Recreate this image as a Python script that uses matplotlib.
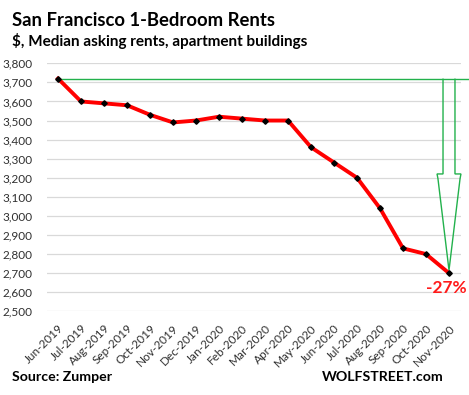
import matplotlib
matplotlib.use("Agg")
import matplotlib.pyplot as plt
from matplotlib.patches import Polygon
from matplotlib.lines import Line2D

plt.rcParams['font.family'] = ['Lato', 'DejaVu Sans']

months = ["Jun-2019", "Jul-2019", "Aug-2019", "Sep-2019", "Oct-2019", "Nov-2019",
          "Dec-2019", "Jan-2020", "Feb-2020", "Mar-2020", "Apr-2020", "May-2020",
          "Jun-2020", "Jul-2020", "Aug-2020", "Sep-2020", "Oct-2020", "Nov-2020"]
rents = [3720, 3600, 3590, 3580, 3530, 3490, 3500, 3520, 3510, 3500, 3500,
         3360, 3280, 3200, 3040, 2830, 2800, 2700]
yticks = [2500, 2600, 2700, 2800, 2900, 3000, 3100, 3200, 3300, 3400, 3500, 3600, 3700, 3800]

W, H = 469, 395
fig = plt.figure(figsize=(W / 100, H / 100), dpi=100)
ax = fig.add_axes([46.5 / W, 1 - 311.3 / H, (460.5 - 46.5) / W, (311.3 - 63.3) / H])

x = list(range(len(months)))
ax.plot(x, rents, color="#ff0000", lw=2.8, zorder=4, solid_joinstyle="round")
ax.plot(x, rents, ls="none", marker="D", ms=2.8, color="black", zorder=5)

ax.set_xlim(-0.5, len(months) - 0.5)
ax.set_ylim(2500, 3800)
ax.set_yticks(yticks)
ax.set_yticklabels([f"{v:,}" for v in yticks])
ax.set_xticks(x)
ax.set_xticklabels(months, rotation=45, ha="right", rotation_mode="anchor")
ax.tick_params(axis="both", length=0, labelsize=8.5, colors="#303030")
ax.tick_params(axis="x", pad=8)
ax.tick_params(axis="y", pad=10)
ax.grid(axis="y", color="#d9d9d9", lw=0.9)
ax.set_axisbelow(True)
for s in ax.spines.values():
    s.set_visible(False)

green = "#22b14c"
first, last = rents[0], rents[-1]
n = len(months) - 1
# horizontal reference line from the first value to the figure edge
ax.add_line(Line2D([0, 17.9], [first, first], color=green, lw=1.0, clip_on=False, zorder=3))
# hollow down arrow
sw, hw = 0.26, 0.52
pts = [(n - sw, first), (n - sw, 3220), (n - hw, 3220), (n - 0.48, 3195),
       (n, last + 15), (n + 0.48, 3195), (n + hw, 3220), (n + sw, 3220), (n + sw, first)]
ax.add_patch(Polygon(pts, closed=False, fill=False, edgecolor=green, lw=1.0,
                     clip_on=False, zorder=3))

pct = round((last / first - 1) * 100)
ax.text(n - 0.1, last - 35, f"{pct}%", color="#ff1a1a", fontsize=12.5,
        fontweight="bold", ha="center", va="top")

fig.text(12 / W, 1 - 26 / H, "San Francisco 1-Bedroom Rents", fontsize=13.3,
         fontweight="bold", color="black", ha="left", va="baseline")
fig.text(12 / W, 1 - 46 / H, "$, Median asking rents, apartment buildings", fontsize=11,
         fontweight="bold", color="black", ha="left", va="baseline")
fig.text(12 / W, 1 - 381 / H, "Source: Zumper", fontsize=10.2,
         fontweight="bold", color="black", ha="left", va="baseline")
fig.text(444 / W, 1 - 381 / H, "WOLFSTREET.com", fontsize=10.2,
         fontweight="bold", color="black", ha="right", va="baseline")

fig.savefig("out.png", dpi=100)
